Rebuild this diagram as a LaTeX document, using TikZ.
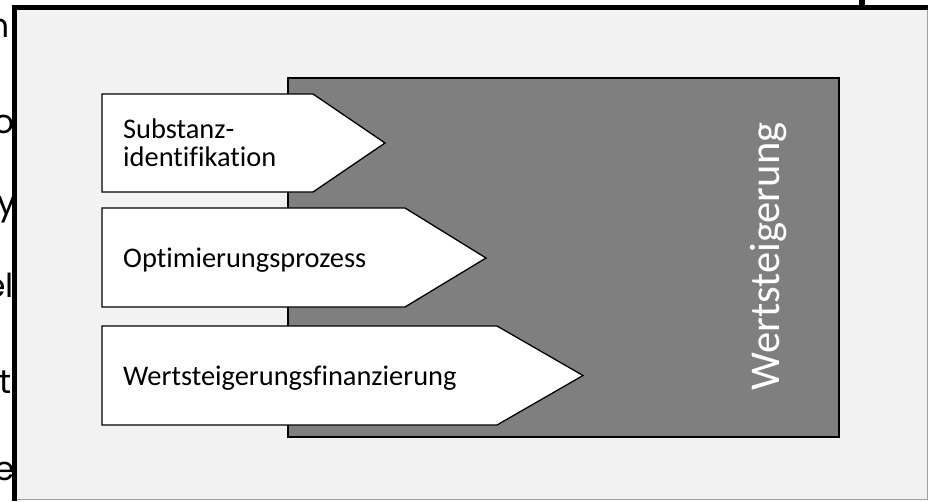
\documentclass[tikz,border=0pt]{standalone}
\usepackage{fontspec}
\setmainfont{Carlito}[Ligatures=NoCommon]
\newfontfamily\bgfont{Poppins}
\definecolor{framefill}{HTML}{F2F2F2}
\definecolor{boxgray}{HTML}{7F7F7F}
\definecolor{edgegray}{HTML}{A0A0A0}
\begin{document}
\begin{tikzpicture}[x=1pt,y=-1pt,
  arrowshape/.style={draw=black, fill=white, line width=1.3pt, line join=miter},
  lbl/.style={anchor=base west, inner sep=0pt, font=\fontsize{28.4}{28}\selectfont, align=left},
  bgletter/.style={anchor=base east, inner sep=0pt, font=\bgfont\fontsize{33}{33}\selectfont, text=black}]
\useasboundingbox (0,0) rectangle (928,501);
\fill[white] (0,0) rectangle (928,501);
% fragments of text behind the frame
\begin{scope}
\clip (0,0) rectangle (14,501);
\node[bgletter] (l1) at (10,37) {n};
\node[bgletter] (l2) at (15,133) {o};
\node[bgletter] (l3) at (16,214) {y};
\node[bgletter] (l4) at (14,297) {el};
\node[bgletter] (l5) at (12,393) {t};
\node[bgletter] (l6) at (15,480) {e};
\end{scope}
% frame
\fill[framefill] (14.5,7.5) rectangle (927,499.5);
\draw[edgegray, line width=0.8pt] (927,7.5) -- (927,499.5) -- (14.5,499.5);
\draw[line width=5pt] (14.5,501) -- (14.5,7.5) -- (928,7.5);
\fill (859,0) rectangle (865,7.5);
% dark box
\draw[fill=boxgray, line width=2pt] (288,78) rectangle (839,437);
\node[rotate=90, text=white, inner sep=0pt, font=\fontsize{42.5}{42.5}\selectfont] (v) at (769,256.5) {Wertsteigerung};
% arrows
\draw[arrowshape] (102,94) -- (313,94) -- (385,143) -- (313,192) -- (102,192) -- cycle;
\draw[arrowshape] (102,208) -- (405,208) -- (486,258) -- (405,307) -- (102,307) -- cycle;
\draw[arrowshape] (102,326) -- (497,326) -- (583,375.5) -- (497,425) -- (102,425) -- cycle;
\node[lbl] (s) at (123,166) {Substanz-\\identifikation};
\node[lbl] (o) at (123,267) {Optimierungsprozess};
\node[lbl] (w) at (123,385) {Wertsteigerungsfinanzierung};
\end{tikzpicture}
\end{document}
